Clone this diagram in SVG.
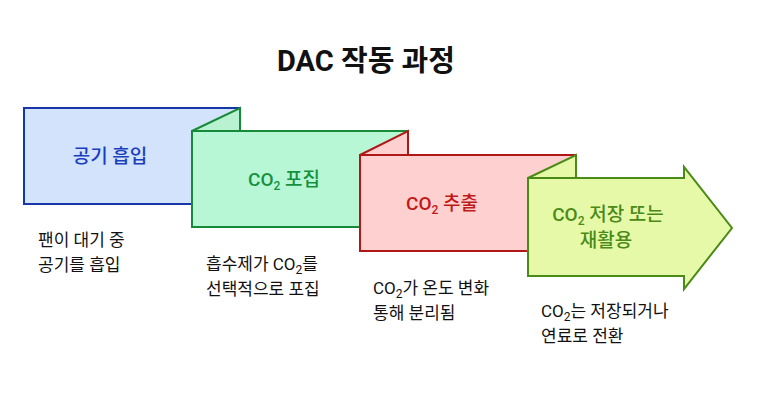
<svg xmlns="http://www.w3.org/2000/svg" width="757" height="420" viewBox="0 0 757 420">
<style>
text{font-family:Roboto,"Noto Sans CJK KR",sans-serif}
.t{font-size:29px;font-weight:bold;fill:#111;text-anchor:middle}
.l{font-size:19px;font-weight:500;text-anchor:middle}
.d{font-size:17px;fill:#111}
.s{stroke-width:2;stroke-linejoin:miter}
</style>
<rect width="757" height="420" fill="#fff"/>
<text class="t" x="366" y="71">DAC 작동 과정</text>
<g id="n1"><rect class="s" x="24" y="108" width="216" height="96" fill="#d3e3fb" stroke="#1636a8"/>
<text class="l" x="110" y="163" fill="#1a3ec0">공기 흡입</text>
<text class="d" x="38" y="246">팬이 대기 중</text><text class="d" x="38" y="271">공기를 흡입</text></g>
<g id="n2"><polygon class="s" points="192,131 240,108 240,131" fill="#b8f2d0" stroke="#178a3a"/>
<rect class="s" x="192" y="131" width="216" height="96" fill="#b8f7d6" stroke="#178a3a"/>
<text class="l" x="284" y="186" fill="#16923e">CO<tspan font-size="12" dy="4">2</tspan><tspan dy="-4"> 포집</tspan></text>
<text class="d" x="206" y="270">흡수제가 CO<tspan font-size="12" dy="4">2</tspan><tspan dy="-4">를</tspan></text><text class="d" x="206" y="295">선택적으로 포집</text></g>
<g id="n3"><polygon class="s" points="360,155 408,131 408,155" fill="#ffd0d0" stroke="#b01818"/>
<rect class="s" x="360" y="155" width="216" height="96" fill="#ffd0d0" stroke="#b01818"/>
<text class="l" x="442" y="210" fill="#c01818">CO<tspan font-size="12" dy="4">2</tspan><tspan dy="-4"> 추출</tspan></text>
<text class="d" x="373" y="294">CO<tspan font-size="12" dy="4">2</tspan><tspan dy="-4">가 온도 변화</tspan></text><text class="d" x="373" y="319">통해 분리됨</text></g>
<g id="n4"><polygon class="s" points="528,178 576,155 576,178" fill="#e6f9a8" stroke="#4a8a16"/>
<polygon class="s" points="528,178 684,178 684,167 732,228 684,289 684,276 528,276" fill="#e6f9a8" stroke="#4a8a16"/>
<text class="l" x="608" y="221" fill="#4a8a16">CO<tspan font-size="12" dy="4">2</tspan><tspan dy="-4"> 저장 또는</tspan></text>
<text class="l" x="606" y="247" fill="#4a8a16">재활용</text>
<text class="d" x="541" y="317">CO<tspan font-size="12" dy="4">2</tspan><tspan dy="-4">는 저장되거나</tspan></text><text class="d" x="541" y="342">연료로 전환</text></g>
<g id="connectors"></g>
</svg>
